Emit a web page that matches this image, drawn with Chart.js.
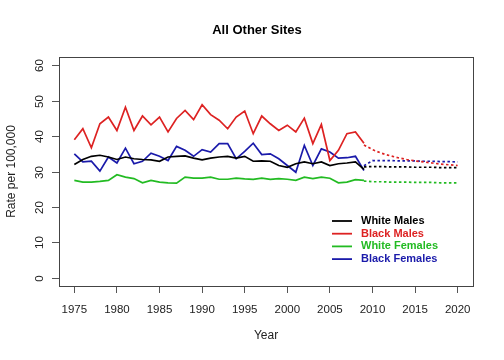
<!DOCTYPE html>
<html>
<head>
<meta charset="utf-8">
<title>All Other Sites</title>
<script src="https://cdn.jsdelivr.net/npm/chart.js"></script>
<style>
  html, body { margin: 0; padding: 0; background: #ffffff; }
  #wrap { width: 504px; height: 360px; }
</style>
</head>
<body>
<div id="wrap"><canvas id="chart" width="504" height="360"></canvas></div>
<script>
// observed years and rates (per 100,000)
const years = [1975, 1976, 1977, 1978, 1979, 1980, 1981, 1982, 1983, 1984,
  1985, 1986, 1987, 1988, 1989, 1990, 1991, 1992, 1993, 1994,
  1995, 1996, 1997, 1998, 1999, 2000, 2001, 2002, 2003, 2004,
  2005, 2006, 2007, 2008, 2009];
const whiteMales = [32.0, 33.4, 34.3, 34.6, 34.1, 33.4, 34.1, 33.6, 33.4, 33.3,
  32.9, 34.1, 34.3, 34.4, 33.8, 33.3, 33.8, 34.1, 34.3, 33.8,
  34.3, 32.9, 33.0, 32.9, 31.7, 31.2, 32.2, 32.7, 32.2, 32.7,
  31.7, 32.2, 32.4, 32.7, 30.6];
const blackMales = [39.0, 42.1, 36.7, 43.5, 45.4, 41.6, 48.2, 41.6, 45.7, 43.2,
  45.4, 41.2, 45.0, 47.3, 44.7, 48.9, 46.1, 44.5, 42.1, 45.4,
  47.1, 40.7, 45.7, 43.5, 41.6, 43.1, 41.2, 45.1, 37.9, 43.3,
  33.1, 36.0, 40.7, 41.2, 38.0];
const whiteFemales = [27.5, 27.0, 27.0, 27.2, 27.5, 29.1, 28.4, 28.0, 26.8, 27.5,
  27.0, 26.8, 26.7, 28.4, 28.1, 28.1, 28.4, 27.8, 27.8, 28.1,
  27.9, 27.8, 28.1, 27.8, 28.0, 27.8, 27.5, 28.4, 28.0, 28.4,
  28.1, 26.8, 27.0, 27.7, 27.5];
const blackFemales = [35.0, 32.7, 32.9, 30.1, 34.1, 32.4, 36.6, 32.2, 32.9, 35.2,
  34.3, 33.1, 37.1, 36.0, 34.3, 36.2, 35.5, 37.9, 37.9, 33.6,
  35.7, 38.0, 34.8, 35.0, 33.6, 31.7, 29.8, 37.4, 31.7, 36.4,
  35.5, 33.8, 33.9, 34.3, 30.3];

// projected rates (dotted)
const projYears = [2009, 2010, 2011, 2012, 2013, 2014, 2015, 2016, 2017, 2018, 2019, 2020];
const projWhiteMales = [31.3, 31.4, 31.4, 31.3, 31.3, 31.3, 31.2, 31.2, 31.2, 31.1, 31.1, 31.1];
const projBlackMales = [37.5, 36.2, 35.2, 34.5, 33.9, 33.4, 33.0, 32.7, 32.4, 32.1, 31.9, 31.7];
const projWhiteFemales = [27.3, 27.1, 27.1, 27.0, 27.0, 27.0, 26.9, 26.9, 26.9, 26.8, 26.8, 26.8];
const projBlackFemales = [31.6, 33.1, 33.1, 33.1, 33.0, 33.0, 33.0, 32.9, 32.9, 32.8, 32.8, 32.7];

const xTicks = [1975, 1980, 1985, 1990, 1995, 2000, 2005, 2010, 2015, 2020];
const yTicks = [0, 10, 20, 30, 40, 50, 60];

const seriesNames = ["White Males", "Black Males", "White Females", "Black Females"];
const seriesColors = ["#000000", "#dd2222", "#22bb22", "#1a1aaa"];

const FONT = "'Liberation Sans', Arial, Helvetica, sans-serif";

const toPoints = (xs, ys) => xs.map((x, i) => ({ x: x, y: ys[i] }));

const observed = [whiteMales, blackMales, whiteFemales, blackFemales];
const projected = [projWhiteMales, projBlackMales, projWhiteFemales, projBlackFemales];

const datasets = [];
observed.forEach((arr, i) => {
  datasets.push({
    label: seriesNames[i],
    data: toPoints(years, arr),
    borderColor: seriesColors[i],
    borderWidth: 1.7,
    pointRadius: 0,
    tension: 0,
    fill: false,
  });
});
projected.forEach((arr, i) => {
  datasets.push({
    label: seriesNames[i] + " (projected)",
    data: toPoints(projYears, arr),
    borderColor: seriesColors[i],
    borderWidth: 1.7,
    borderDash: [2.5, 2.5],
    pointRadius: 0,
    tension: 0,
    fill: false,
  });
});

// R-style decorations: box, y ticks, rotated y labels, titles, legend
const decorations = {
  id: "decorations",
  afterDraw(chart) {
    const { ctx, chartArea: a, scales } = chart;
    ctx.save();

    // box around plot
    ctx.strokeStyle = "#444";
    ctx.lineWidth = 1;
    ctx.strokeRect(a.left + 0.5, a.top + 0.5, a.right - a.left, a.bottom - a.top);

    // y tick marks and labels, rotated like R's default
    ctx.strokeStyle = "#555";
    ctx.fillStyle = "#222";
    ctx.font = "11.5px " + FONT;
    ctx.textAlign = "center";
    ctx.textBaseline = "middle";
    yTicks.forEach((v) => {
      const y = Math.round(scales.y.getPixelForValue(v)) + 0.5;
      ctx.beginPath();
      ctx.moveTo(a.left - 7, y);
      ctx.lineTo(a.left, y);
      ctx.stroke();
      ctx.save();
      ctx.translate(40, y);
      ctx.rotate(-Math.PI / 2);
      ctx.fillText(String(v), 0, 0);
      ctx.restore();
    });

    // axis titles
    ctx.font = "12px " + FONT;
    ctx.fillText("Year", (a.left + a.right) / 2, 336);
    ctx.save();
    ctx.translate(12, (a.top + a.bottom) / 2);
    ctx.rotate(-Math.PI / 2);
    ctx.fillText("Rate per 100,000", 0, 0);
    ctx.restore();

    // main title
    ctx.fillStyle = "#000";
    ctx.font = "bold 13px " + FONT;
    ctx.fillText("All Other Sites", 257, 30);

    // legend
    ctx.font = "bold 11px " + FONT;
    ctx.textAlign = "left";
    seriesNames.forEach((name, i) => {
      const y = 221 + i * 12.7;
      ctx.strokeStyle = seriesColors[i];
      ctx.lineWidth = 1.8;
      ctx.beginPath();
      ctx.moveTo(332, y);
      ctx.lineTo(352, y);
      ctx.stroke();
      ctx.fillStyle = seriesColors[i];
      ctx.fillText(name, 361, y);
    });

    ctx.restore();
  },
};

new Chart(document.getElementById("chart"), {
  type: "line",
  data: { datasets: datasets },
  options: {
    responsive: false,
    animation: false,
    events: [],
    layout: { padding: { top: 57, right: 31, left: 0, bottom: 0 } },
    plugins: {
      legend: { display: false },
      tooltip: { enabled: false },
      title: { display: false },
    },
    scales: {
      x: {
        type: "linear",
        min: 1973.2,
        max: 2021.8,
        afterBuildTicks: (s) => { s.ticks = xTicks.map((v) => ({ value: v })); },
        afterFit: (s) => { s.height = 74; },
        border: { display: false },
        grid: { drawOnChartArea: false, drawTicks: true, tickLength: 7, color: "#555", lineWidth: 1 },
        ticks: {
          color: "#222",
          font: { family: FONT, size: 11.5 },
          padding: 10,
          maxRotation: 0,
          callback: (v) => String(v),
        },
      },
      y: {
        type: "linear",
        min: -2.4,
        max: 62.4,
        afterBuildTicks: (s) => { s.ticks = yTicks.map((v) => ({ value: v })); },
        afterFit: (s) => { s.width = 59; },
        border: { display: false },
        grid: { display: false },
        ticks: { display: false },
      },
    },
  },
  plugins: [decorations],
});
</script>
</body>
</html>
